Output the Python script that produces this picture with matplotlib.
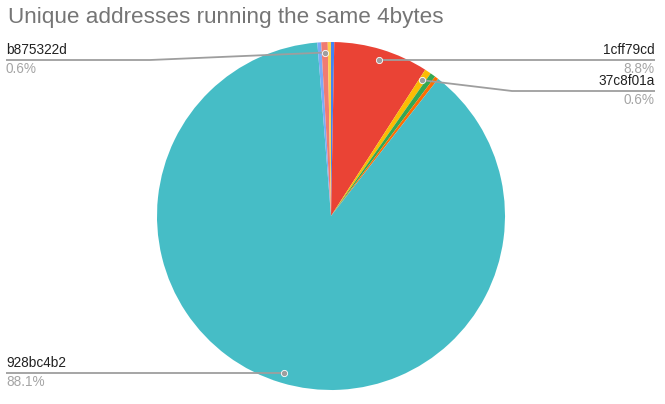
import numpy as np
import matplotlib
matplotlib.use("Agg")
import matplotlib.pyplot as plt

plt.rcParams['font.family'] = ['Liberation Sans', 'DejaVu Sans']

title = "Unique addresses running the same 4bytes"
names = ["", "1cff79cd", "37c8f01a", "", "", "928bc4b2", "", "b875322d", ""]
values = [0.3, 8.8, 0.6, 0.5, 0.35, 88.1, 0.35, 0.6, 0.3]
colors = ["#4285F4", "#EA4335", "#FBBC04", "#34A853", "#FF6D01",
          "#46BDC6", "#7BAAF7", "#F07B72", "#FCD04F"]

W, H = 665, 404
CX, CY, R = 331, 216, 174

fig = plt.figure(figsize=(W / 100, H / 100), dpi=100)
ax = fig.add_axes([0, 0, 1, 1])
ax.axis('off')

wedges, _ = ax.pie(values, colors=colors, startangle=90, counterclock=False,
                   radius=1, center=(0, 0), wedgeprops=dict(linewidth=0))
ax.set_aspect('auto')
ax.set_xlim(-CX / R, (W - CX) / R)
ax.set_ylim(-(H - CY) / R, CY / R)


def px(x, y):
    return (x - CX) / R, (CY - y) / R


def dot_pos(w):
    ang = np.deg2rad((w.theta1 + w.theta2) / 2)
    return 0.94 * np.cos(ang), 0.94 * np.sin(ang)


fig.text(8 / W, 1 - 18 / H, title, fontsize=16.2, color="#757575",
         ha='left', va='center')

line_c = "#9E9E9E"
name_c = "#212121"
pct_c = "#A5A5A5"

# label layout: (side, elbow_x_px, line_y_px)
layout = {
    "1cff79cd": ("right", None, None),
    "37c8f01a": ("right", 512, 91),
    "b875322d": ("left", 150, 60),
    "928bc4b2": ("left", None, None),
}

for w, n, v in zip(wedges, names, values):
    if not n:
        continue
    side, ex, ly = layout[n]
    dx, dy = dot_pos(w)
    if ly is None:
        ly_d = dy
    else:
        ly_d = px(0, ly)[1]
    end_x = px(655, 0)[0] if side == "right" else px(6, 0)[0]
    xs = [dx]
    ys = [dy]
    if ex is not None:
        xs.append(px(ex, 0)[0])
        ys.append(ly_d)
    xs.append(end_x)
    ys.append(ly_d)
    ax.plot(xs, ys, color=line_c, lw=1.3, clip_on=False, solid_capstyle='butt')
    ax.plot([dx], [dy], 'o', color=line_c, ms=4.5, mec='white', mew=0.6)
    ha = 'right' if side == "right" else 'left'
    ax.text(end_x, ly_d + 3 / R, n, ha=ha, va='bottom', fontsize=9.8, color=name_c)
    ax.text(end_x, ly_d - 2 / R, f"{v:.1f}%", ha=ha, va='top', fontsize=9.8, color=pct_c)

fig.savefig("out.png", dpi=100, facecolor="white")
